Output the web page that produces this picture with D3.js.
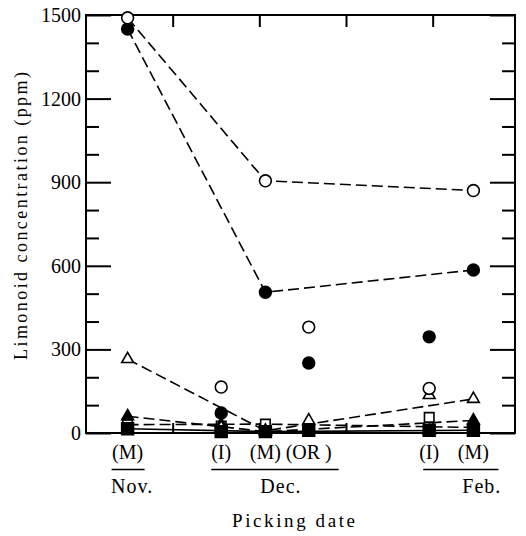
<!DOCTYPE html>
<html>
<head>
<meta charset="utf-8">
<script src="https://cdn.jsdelivr.net/npm/d3@7"></script>
<style>
  body { margin: 0; background: #fff; }
  svg { display: block; }
  text { font-family: "Liberation Serif", "DejaVu Serif", serif; fill: #000; }
  .axis path { display: none; }
  .axis line { stroke: #000; stroke-width: 2; }
</style>
</head>
<body>
<div id="chart"></div>
<script>
// limonoid content vs picking date
var sampleLabels = ["(M)", "(I)", "(M)", "(OR )", "(I)", "(M)"];
var samplePos    = [0.48, 1.56, 2.07, 2.57, 3.96, 4.47];   // position along the date axis
var connected    = [0, 2, 5];                              // (M) samples are joined by lines

var months      = ["Nov.", "Dec.", "Feb."];
var monthFirst  = [0, 1, 4];
var monthLast   = [0, 3, 5];

var yMajor = [0, 300, 600, 900, 1200, 1500];
var yMinor = [100, 200, 400, 500, 700, 800, 1000, 1100, 1300, 1400];
var xTicks = [1, 2, 3, 4];

var openCircle     = [1490, 165, 905, 380, 160, 870];
var filledCircle   = [1450, 72, 505, 251, 345, 585];
var openTriangle   = [265, 20, 8, 45, 136, 122];
var filledTriangle = [60, 30, 5, 12, 8, 45];
var openSquare     = [30, 25, 32, 10, 56, 20];
var filledSquare   = [15, 5, 5, 10, 10, 10];

(function () {
var width = 526, height = 536;
var margin = {top: 15, right: 11, bottom: 103, left: 86};
var x0px = margin.left, x1px = width - margin.right,
    y0px = height - margin.bottom, y1px = margin.top;

var svg = d3.select("#chart").append("svg")
    .attr("width", width)
    .attr("height", height);

var x = d3.scaleLinear().domain([0, 4.95]).range([x0px, x1px]);
var y = d3.scaleLinear().domain([0, 1500]).range([y0px, y1px]);

// axes, ticks pointing inwards
svg.append("g").attr("class", "axis")
    .attr("transform", "translate(" + x0px + ",0)")
    .call(d3.axisLeft(y).tickValues(yMajor).tickSize(-25).tickPadding(5).tickFormat(d3.format("d")))
  .selectAll("text")
    .style("font-size", "20px");

svg.append("g").attr("class", "axis")
    .attr("transform", "translate(" + x0px + ",0)")
    .call(d3.axisLeft(y).tickValues(yMinor).tickSize(-13).tickFormat(""));

svg.append("g").attr("class", "axis")
    .attr("transform", "translate(" + x1px + ",0)")
    .call(d3.axisRight(y).tickValues(yMajor).tickSize(-25).tickFormat(""));

svg.append("g").attr("class", "axis")
    .attr("transform", "translate(" + x1px + ",0)")
    .call(d3.axisRight(y).tickValues(yMinor).tickSize(-13).tickFormat(""));

svg.append("g").attr("class", "axis")
    .attr("transform", "translate(0," + y1px + ")")
    .call(d3.axisTop(x).tickValues(xTicks).tickSize(-12).tickFormat(""));

svg.append("g").attr("class", "axis")
    .attr("transform", "translate(0," + y0px + ")")
    .call(d3.axisBottom(x).tickValues(xTicks).tickSize(-10).tickFormat(""));

svg.append("rect")
    .attr("x", x0px).attr("y", y1px)
    .attr("width", x1px - x0px).attr("height", y0px - y1px)
    .attr("fill", "none").attr("stroke", "#000").attr("stroke-width", 2);

var series = [
  {values: openSquare,     shape: "square",   size: 90,  fill: "#fff", dash: "11,5"},
  {values: filledTriangle, shape: "triangle", size: 60,  fill: "#000", dash: "11,5"},
  {values: openTriangle,   shape: "triangle", size: 60,  fill: "#fff", dash: "11,5"},
  {values: filledCircle,   shape: "circle",   size: 110, fill: "#000", dash: "11,5"},
  {values: openCircle,     shape: "circle",   size: 110, fill: "#fff", dash: "11,5"},
  {values: filledSquare,   shape: "square",   size: 140, fill: "#000", dash: null}
];

var line = d3.line()
    .x(function(i) { return x(samplePos[i]); });

series.forEach(function(s) {
  svg.append("path")
      .attr("d", line.y(function(i) { return y(s.values[i]); })(connected))
      .attr("fill", "none")
      .attr("stroke", "#000")
      .attr("stroke-width", 1.6)
      .attr("stroke-dasharray", s.dash);
});

var shapes = {circle: d3.symbolCircle, triangle: d3.symbolTriangle, square: d3.symbolSquare};

series.forEach(function(s) {
  svg.append("g").selectAll("path")
      .data(s.values)
    .enter().append("path")
      .attr("transform", function(d, i) { return "translate(" + x(samplePos[i]) + "," + y(d) + ")"; })
      .attr("d", d3.symbol().type(shapes[s.shape]).size(s.size))
      .attr("fill", s.fill)
      .attr("stroke", "#000")
      .attr("stroke-width", 1.6);
});

// sample labels under the axis
svg.append("g").selectAll("text")
    .data(sampleLabels)
  .enter().append("text")
    .attr("x", function(d, i) { return x(samplePos[i]); })
    .attr("y", 459)
    .attr("text-anchor", "middle")
    .style("font-size", "20px")
    .text(function(d) { return d; });

// month groups: underline + name
var lineLeft = [-16, -10, -6], lineRight = [17, 30, 25], nameShift = [4, 6, 21];
months.forEach(function(m, k) {
  var xa = x(samplePos[monthFirst[k]]) + lineLeft[k],
      xb = x(samplePos[monthLast[k]]) + lineRight[k];
  svg.append("line")
      .attr("x1", xa).attr("x2", xb)
      .attr("y1", 469.5).attr("y2", 469.5)
      .attr("stroke", "#000").attr("stroke-width", 1.3);
  svg.append("text")
      .attr("x", (xa + xb) / 2 + nameShift[k])
      .attr("y", 493)
      .attr("text-anchor", "middle")
      .style("font-size", "20px")
      .style("letter-spacing", "1px")
      .text(m);
});

svg.append("text")
    .attr("x", 232).attr("y", 527)
    .attr("textLength", 123)
    .attr("lengthAdjust", "spacing")
    .style("font-size", "19px")
    .text("Picking date");

svg.append("text")
    .attr("transform", "translate(27,360) rotate(-90)")
    .attr("textLength", 288)
    .attr("lengthAdjust", "spacing")
    .style("font-size", "18px")
    .text("Limonoid concentration (ppm)");
})();
</script>
</body>
</html>
